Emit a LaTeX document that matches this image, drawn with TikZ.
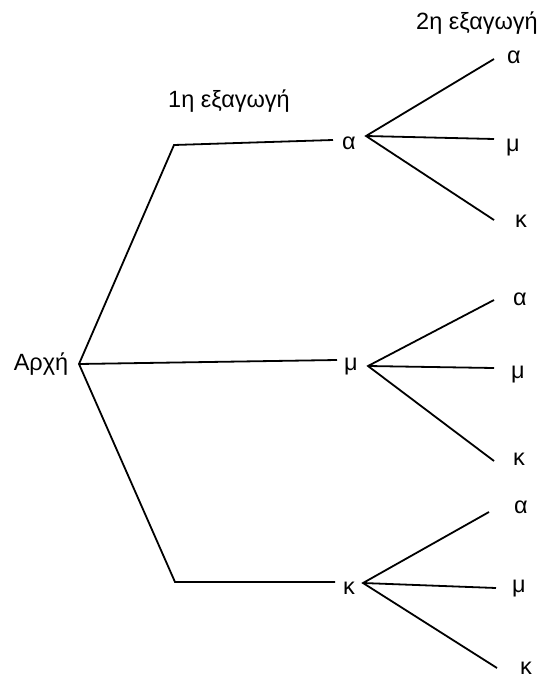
\documentclass[tikz,border=0pt]{standalone}
\usepackage{fontspec}
\setmainfont{Liberation Sans}
\begin{document}
\begin{tikzpicture}[x=1pt,y=-1pt,
  edge/.style={line width=1.8pt, line join=miter},
  lbl/.style={inner sep=0pt, font=\fontsize{23.5}{27}\selectfont}]
\useasboundingbox (0,0) rectangle (542,679);
% texts
\node[lbl] (start) at (41,364) {Αρχή};
\node[lbl] (h1) at (229,101) {1η εξαγωγή};
\node[lbl] (h2) at (477,23) {2η εξαγωγή};
\node[lbl] (a) at (349,143) {α};
\node[lbl] (m) at (351,367) {μ};
\node[lbl] (k) at (349,588) {κ};
\node[lbl] (aa) at (514,57) {α};
\node[lbl] (am) at (513,148) {μ};
\node[lbl] (ak) at (521,221) {κ};
\node[lbl] (ma) at (520,299) {α};
\node[lbl] (mm) at (518,375) {μ};
\node[lbl] (mk) at (519,459) {κ};
\node[lbl] (ka) at (521,507) {α};
\node[lbl] (km) at (519,589) {μ};
\node[lbl] (kk) at (526,668) {κ};
% connector points
\coordinate (R) at (79,364);
\coordinate (c1) at (174,145);
\coordinate (e1) at (333,140);
\coordinate (e2) at (337,360);
\coordinate (c3) at (175,582);
\coordinate (e3) at (335,582);
\coordinate (J1) at (366,136);
\coordinate (J2) at (368,366);
\coordinate (J3) at (363,583);
\coordinate (aa') at (494,59);
\coordinate (am') at (494,139);
\coordinate (ak') at (494,220);
\coordinate (ma') at (494,300);
\coordinate (mm') at (494,368);
\coordinate (mk') at (494,461);
\coordinate (ka') at (489,512);
\coordinate (km') at (496,588);
\coordinate (kk') at (497,668);
% connectors
\draw[edge] (e1) -- (c1) -- (R) -- (c3) -- (e3);
\draw[edge] (R) -- (e2);
\draw[edge] (aa') -- (J1) -- (ak');
\draw[edge] (J1) -- (am');
\draw[edge] (ma') -- (J2) -- (mk');
\draw[edge] (J2) -- (mm');
\draw[edge] (ka') -- (J3) -- (kk');
\draw[edge] (J3) -- (km');
\end{tikzpicture}
\end{document}
